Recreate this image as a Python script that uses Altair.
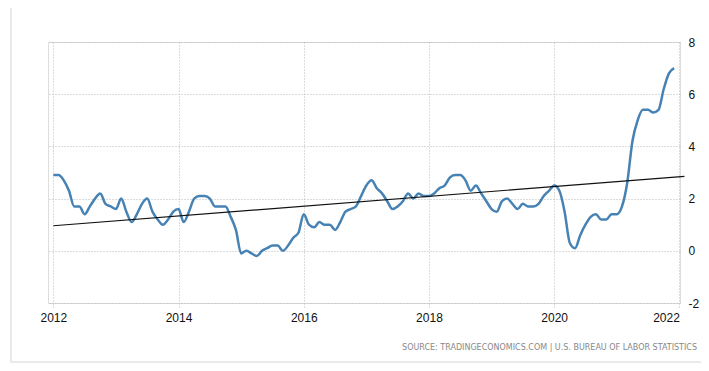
import altair as alt
import pandas as pd

# US CPI inflation rate (YoY %), monthly Jan 2012 - Dec 2021
cpi_2012 = [2.9, 2.9, 2.7, 2.3, 1.7, 1.7, 1.4, 1.7, 2.0, 2.2, 1.8, 1.7]
cpi_2013 = [1.6, 2.0, 1.5, 1.1, 1.4, 1.8, 2.0, 1.5, 1.2, 1.0, 1.2, 1.5]
cpi_2014 = [1.6, 1.1, 1.5, 2.0, 2.1, 2.1, 2.0, 1.7, 1.7, 1.7, 1.3, 0.8]
cpi_2015 = [-0.1, 0.0, -0.1, -0.2, 0.0, 0.1, 0.2, 0.2, 0.0, 0.2, 0.5, 0.7]
cpi_2016 = [1.4, 1.0, 0.9, 1.1, 1.0, 1.0, 0.8, 1.1, 1.5, 1.6, 1.7, 2.1]
cpi_2017 = [2.5, 2.7, 2.4, 2.2, 1.9, 1.6, 1.7, 1.9, 2.2, 2.0, 2.2, 2.1]
cpi_2018 = [2.1, 2.2, 2.4, 2.5, 2.8, 2.9, 2.9, 2.7, 2.3, 2.5, 2.2, 1.9]
cpi_2019 = [1.6, 1.5, 1.9, 2.0, 1.8, 1.6, 1.8, 1.7, 1.7, 1.8, 2.1, 2.3]
cpi_2020 = [2.5, 2.3, 1.5, 0.3, 0.1, 0.6, 1.0, 1.3, 1.4, 1.2, 1.2, 1.4]
cpi_2021 = [1.4, 1.7, 2.6, 4.2, 5.0, 5.4, 5.4, 5.3, 5.4, 6.2, 6.8, 7.0]

start_year = 2012
tick_years = [2012, 2014, 2016, 2018, 2020, 2022]
y_ticks = [-2, 0, 2, 4, 6, 8]
source_text = "SOURCE: TRADINGECONOMICS.COM | U.S. BUREAU OF LABOR STATISTICS"

values = (cpi_2012 + cpi_2013 + cpi_2014 + cpi_2015 + cpi_2016 +
          cpi_2017 + cpi_2018 + cpi_2019 + cpi_2020 + cpi_2021)
df = pd.DataFrame({
    "t": [start_year + i / 12 for i in range(len(values))],
    "v": values,
})

FONT = "Liberation Sans Narrow, Arial Narrow, Liberation Sans, Arial, sans-serif"
SRC_FONT = "DejaVu Sans, Verdana, sans-serif"
W, H = 632, 261

xs = alt.Scale(domain=[2011.915, 2022.01], nice=False, zero=False)
ys = alt.Scale(domain=[-2, 8], nice=False)

x_axis = alt.Axis(values=tick_years, format="d", title=None, grid=True,
                  gridDash=[1, 2], gridColor="#b8b8b8", domain=False,
                  ticks=True, tickSize=4, tickColor="#b8b8b8", tickDash=[1, 2],
                  labelFont=FONT, labelFontSize=12, labelColor="#111111",
                  labelPadding=5)
y_axis = alt.Axis(orient="right", values=y_ticks, title=None, grid=True,
                  gridDash=[1, 2], gridColor="#b8b8b8", domain=False,
                  ticks=False, tickSize=0, labelFont=FONT, labelFontSize=12,
                  labelColor="#111111", labelPadding=8, labelAlign="left",
                  labelExpr="'' + datum.value")

frame = alt.Chart(pd.DataFrame({"a": [0]})).mark_rect(
    fillOpacity=0, stroke="#e4e4e4", strokeWidth=1.5, clip=False
).encode(x=alt.value(-37), x2=alt.value(720), y=alt.value(-39), y2=alt.value(320))

line = alt.Chart(df).mark_line(
    interpolate="monotone", color="#4682b4", strokeWidth=2.5
).encode(
    x=alt.X("t:Q", scale=xs, axis=x_axis),
    y=alt.Y("v:Q", scale=ys, axis=y_axis),
)

trend = alt.Chart(df).transform_regression(
    "t", "v", extent=[2012.0, 2022.08]
).mark_line(color="#111111", strokeWidth=1.2, clip=False).encode(
    x=alt.X("t:Q", scale=xs),
    y=alt.Y("v:Q", scale=ys),
)

source = alt.Chart(pd.DataFrame({"s": [source_text]})).mark_text(
    align="right", baseline="middle", font=SRC_FONT, fontSize=8,
    color="#888888", clip=False
).encode(x=alt.value(649), y=alt.value(306), text="s:N")

chart = alt.layer(frame, line, trend, source).properties(
    width=W, height=H,
    autosize=alt.AutoSizeParams(type="none"),
    padding={"left": 40, "top": 34, "right": 21, "bottom": 60},
).configure_view(strokeWidth=0).configure(background="white")

chart.save("out.html", embed_options={"renderer": "svg", "actions": False})
